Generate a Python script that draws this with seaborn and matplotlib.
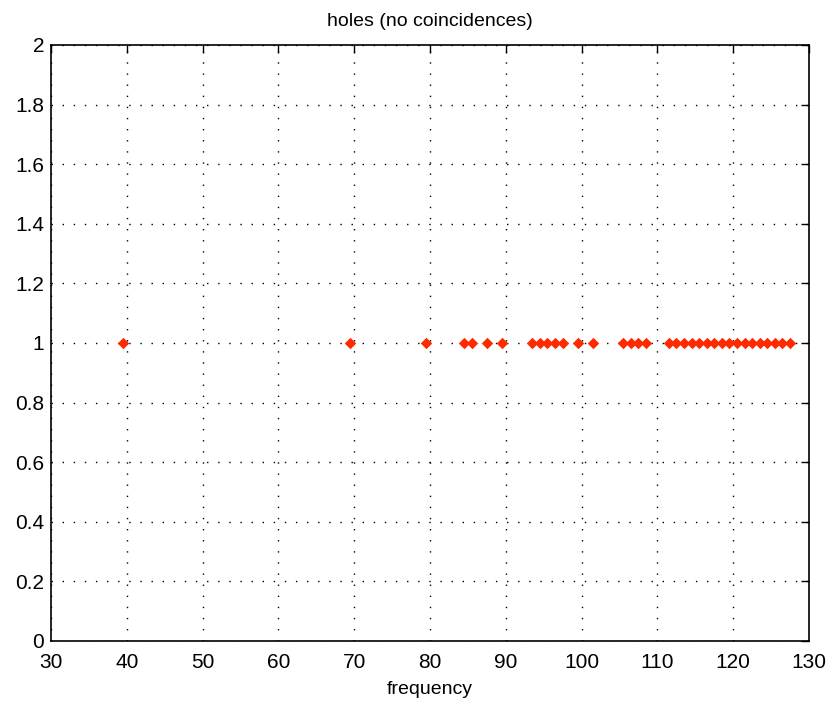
import matplotlib
matplotlib.use("Agg")
import matplotlib.pyplot as plt
import seaborn as sns
import pandas as pd

# Hole frequencies (no coincidences), all plotted at level 1
frequencies = [39.5, 69.5, 79.5, 84.5, 85.5, 87.5, 89.5,
               93.5, 94.5, 95.5, 96.5, 97.5, 99.5, 101.5,
               105.5, 106.5, 107.5, 108.5,
               111.5, 112.5, 113.5, 114.5, 115.5, 116.5, 117.5, 118.5,
               119.5, 120.5, 121.5, 122.5, 123.5, 124.5, 125.5, 126.5, 127.5]
levels = [1] * len(frequencies)

x_ticks = [30, 40, 50, 60, 70, 80, 90, 100, 110, 120, 130]
y_ticks = [0, 0.2, 0.4, 0.6, 0.8, 1, 1.2, 1.4, 1.6, 1.8, 2]
y_tick_labels = ["0", "0.2", "0.4", "0.6", "0.8", "1", "1.2", "1.4", "1.6", "1.8", "2"]

df = pd.DataFrame({"frequency": frequencies, "level": levels})

sns.set_theme(style="white")
plt.rcParams["font.family"] = ["Liberation Sans Narrow", "Liberation Sans", "DejaVu Sans"]

fig = plt.figure(figsize=(8.30, 7.09), dpi=100)
ax = fig.add_axes([51 / 830, 1 - 641 / 709, (809 - 51) / 830, (641 - 45) / 709])

sns.scatterplot(data=df, x="frequency", y="level", ax=ax, marker="D",
                color="#ff2a00", edgecolor="#ff2a00", s=34, linewidth=0, zorder=3)

ax.set_xlim(30, 130)
ax.set_ylim(0, 2)
ax.set_xticks(x_ticks)
ax.set_xticklabels([str(t) for t in x_ticks])
ax.set_yticks(y_ticks)
ax.set_yticklabels(y_tick_labels)

ax.grid(True, color="black", linestyle=(0, (1, 7)), linewidth=1.0)
ax.tick_params(direction="in", length=6, width=1, color="black",
               top=True, right=True, labelsize=15, labelcolor="black")
ax.tick_params(axis="x", pad=9)
ax.tick_params(axis="y", pad=5)
for spine in ax.spines.values():
    spine.set_color("black")
    spine.set_linewidth(1.2)

ax.set_title("holes (no coincidences)", fontsize=14, color="black", pad=14)
ax.set_xlabel("frequency", fontsize=14, color="black", labelpad=6)
ax.set_ylabel("")

fig.savefig("out.png", dpi=100, facecolor="white")
